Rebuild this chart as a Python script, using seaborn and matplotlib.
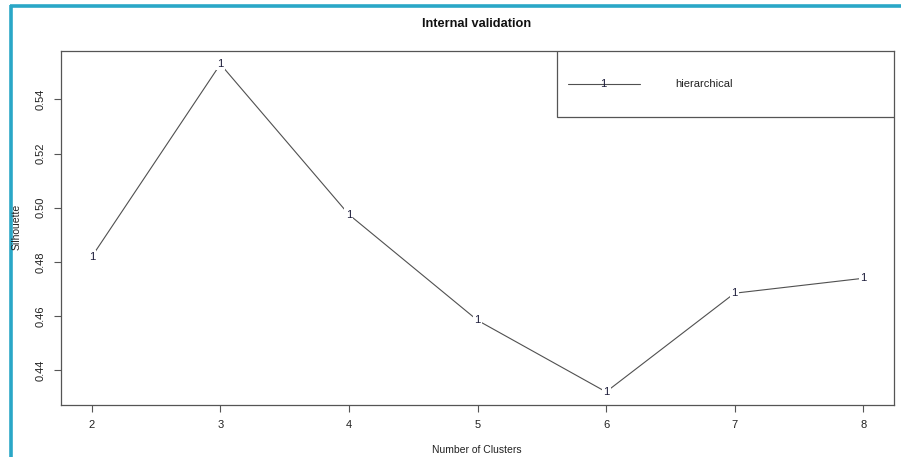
import matplotlib
matplotlib.use("Agg")
import matplotlib.pyplot as plt
import seaborn as sns
import pandas as pd
from matplotlib.patches import Rectangle
from matplotlib.lines import Line2D

clusters = [2, 3, 4, 5, 6, 7, 8]
silhouette = [0.482, 0.553, 0.4975, 0.4585, 0.4321, 0.4685, 0.474]
y_ticks = [0.44, 0.46, 0.48, 0.50, 0.52, 0.54]
y_tick_labels = ["0.44", "0.46", "0.48", "0.50", "0.52", "0.54"]
method = "hierarchical"
point_char = "1"

sns.set_theme(style="white")
plt.rcParams["font.family"] = ["Liberation Sans", "DejaVu Sans"]

df = pd.DataFrame({"k": clusters, "s": silhouette})

fig = plt.figure(figsize=(9.01, 4.57), dpi=100)
W, H = 901, 457
ax = fig.add_axes([61 / W, 1 - 405 / H, (894 - 61) / W, (405 - 51) / H])

sns.lineplot(data=df, x="k", y="s", ax=ax, color="#505050", linewidth=0.8)
for k, s in zip(clusters, silhouette):
    ax.text(k, s, point_char, ha="center", va="center", fontsize=8, color="#1c1c3a",
            bbox=dict(facecolor="white", edgecolor="none", pad=1.0), zorder=5)

xr = max(clusters) - min(clusters)
yr = max(silhouette) - min(silhouette)
ax.set_xlim(min(clusters) - 0.04 * xr, max(clusters) + 0.04 * xr)
ax.set_ylim(min(silhouette) - 0.04 * yr, max(silhouette) + 0.04 * yr)
ax.set_xticks(clusters)
ax.set_xticklabels([str(c) for c in clusters])
ax.set_yticks(y_ticks)
ax.set_yticklabels(y_tick_labels, rotation=90, va="center")
ax.tick_params(axis="both", which="major", direction="out", length=5, width=0.8,
               color="#555555", labelsize=8, labelcolor="#222222", pad=6,
               bottom=True, left=True)
for sp in ax.spines.values():
    sp.set_color("#555555")
    sp.set_linewidth(0.9)
ax.set_xlabel("")
ax.set_ylabel("")

# legend box
ax.add_patch(Rectangle((0.5954, 0.8136), 1 - 0.5954, 1 - 0.8136, transform=ax.transAxes,
                       facecolor="white", edgecolor="#555555", linewidth=0.9, zorder=6))
ax.add_line(Line2D([0.6086, 0.695], [0.9068, 0.9068], transform=ax.transAxes,
                   color="#505050", linewidth=0.8, zorder=7))
ax.text(0.6507, 0.9068, point_char, transform=ax.transAxes, ha="center", va="center",
        fontsize=8, color="#1c1c3a", zorder=8)
ax.text(0.737, 0.9068, method, transform=ax.transAxes, ha="left", va="center",
        fontsize=8, color="#222222", zorder=8)

fig.text(477 / W, 1 - 24 / H, "Internal validation", ha="center", va="center",
         fontsize=9.2, fontweight="bold", color="#111111")
fig.text(477 / W, 1 - 450 / H, "Number of Clusters", ha="center", va="center",
         fontsize=7.5, color="#222222")
fig.text(17 / W, 1 - 227 / H, "Silhouette", ha="center", va="center", rotation=90,
         fontsize=7.5, color="#222222")

# teal frame on top and left
fig.add_artist(Line2D([11 / W, 11 / W], [0, 1 - 4.5 / H], color="#2aa7c7", linewidth=2.6,
                      solid_capstyle="butt", transform=fig.transFigure))
fig.add_artist(Line2D([9.5 / W, 1], [1 - 6 / H, 1 - 6 / H], color="#2aa7c7", linewidth=2.6,
                      solid_capstyle="butt", transform=fig.transFigure))

fig.savefig("out.png", dpi=100)
